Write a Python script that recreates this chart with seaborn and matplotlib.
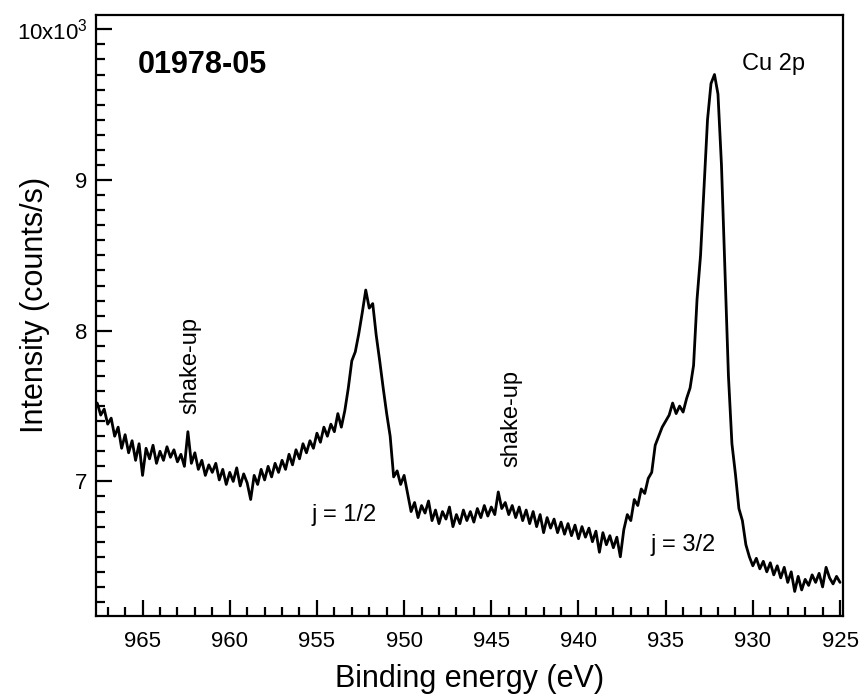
import numpy as np
import pandas as pd
import matplotlib
matplotlib.use("Agg")
import matplotlib.pyplot as plt
import seaborn as sns
from matplotlib.ticker import MultipleLocator, FixedLocator, FixedFormatter

# ---------------------------
# data (Cu 2p, 0.2 eV steps, intensity in 10^3 counts/s)
# ---------------------------
energy_start = 967.6
energy_step = 0.2

intensity = [
    # 967.6 -> 963.0
    7.52, 7.44, 7.48, 7.38, 7.42, 7.30, 7.36, 7.22, 7.31, 7.19, 7.27, 7.14,
    7.25, 7.04, 7.22, 7.15, 7.24, 7.12, 7.20, 7.14, 7.23, 7.16, 7.21, 7.13,
    # 962.8 -> 958.0
    7.18, 7.10, 7.33, 7.12, 7.19, 7.08, 7.14, 7.04, 7.11, 7.06, 7.12, 7.01,
    7.08, 6.98, 7.06, 7.00, 7.09, 6.97, 7.05, 6.99, 6.88, 7.04, 6.98, 7.08, 7.01,
    # 957.8 -> 953.4
    7.10, 7.03, 7.12, 7.06, 7.14, 7.08, 7.18, 7.11, 7.21, 7.15, 7.25, 7.19,
    7.27, 7.22, 7.32, 7.26, 7.36, 7.30, 7.38, 7.33, 7.45, 7.36, 7.47,
    # 953.2 -> 950.0  (j = 1/2)
    7.62, 7.80, 7.86, 7.98, 8.12, 8.27, 8.15, 8.18, 7.97, 7.80, 7.62, 7.45,
    7.30, 7.03, 7.07, 6.98, 7.04,
    # 949.8 -> 937.6
    6.92, 6.80, 6.86, 6.76, 6.84, 6.79, 6.87, 6.74, 6.81, 6.72, 6.80, 6.75,
    6.83, 6.70, 6.78, 6.72, 6.81, 6.74, 6.80, 6.73, 6.82, 6.76, 6.84, 6.77,
    6.83, 6.78, 6.93, 6.82, 6.86, 6.78, 6.84, 6.76, 6.83, 6.74, 6.81, 6.72,
    6.80, 6.70, 6.78, 6.66, 6.76, 6.69, 6.75, 6.66, 6.73, 6.65, 6.72, 6.64,
    6.71, 6.62, 6.70, 6.63, 6.69, 6.60, 6.67, 6.53, 6.66, 6.58, 6.64, 6.56,
    6.63, 6.50,
    # 937.4 -> 930.0  (j = 3/2)
    6.68, 6.78, 6.74, 6.88, 6.84, 6.95, 6.92, 7.02, 7.06, 7.24, 7.30, 7.36,
    7.40, 7.44, 7.52, 7.45, 7.50, 7.46, 7.55, 7.62, 7.77, 8.21, 8.50, 8.95,
    9.40, 9.64, 9.70, 9.57, 9.10, 8.40, 7.70, 7.25, 7.05, 6.82, 6.74, 6.58,
    6.50, 6.44,
    # 929.8 -> 925.0
    6.49, 6.42, 6.47, 6.40, 6.46, 6.38, 6.44, 6.36, 6.43, 6.33, 6.40, 6.27,
    6.37, 6.28, 6.35, 6.31, 6.38, 6.33, 6.39, 6.30, 6.43, 6.36, 6.32, 6.37, 6.33,
]

energy = np.round(energy_start - energy_step * np.arange(len(intensity)), 1)
df = pd.DataFrame({"Binding energy": energy, "Intensity": intensity})

sample_id = "01978-05"
line_name = "Cu 2p"
y_ticks = [7, 8, 9, 10]
y_tick_labels = ["7", "8", "9", r"10x10$^{3}$"]

# ---------------------------
# style
# ---------------------------
sns.set_style("ticks")
plt.rcParams['font.family'] = ['Liberation Sans', 'DejaVu Sans']
plt.rcParams['mathtext.fontset'] = 'custom'
plt.rcParams['mathtext.rm'] = 'Liberation Sans'
plt.rcParams['mathtext.it'] = 'Liberation Sans:italic'
plt.rcParams['text.color'] = 'black'
plt.rcParams['axes.labelcolor'] = 'black'
plt.rcParams['xtick.color'] = 'black'
plt.rcParams['ytick.color'] = 'black'

fig = plt.figure(figsize=(8.61, 6.95), dpi=100)
ax = fig.add_axes([96 / 861, 1 - 616 / 695, (843 - 96) / 861, (616 - 15) / 695])

sns.lineplot(data=df, x="Binding energy", y="Intensity", ax=ax,
             color="black", linewidth=2.0, sort=False)

ax.set_xlim(967.67, 924.83)
ax.set_ylim(6.107, 10.095)

ax.xaxis.set_major_locator(MultipleLocator(5))
ax.xaxis.set_minor_locator(MultipleLocator(1))
ax.yaxis.set_major_locator(FixedLocator(y_ticks))
ax.yaxis.set_major_formatter(FixedFormatter(y_tick_labels))
ax.yaxis.set_minor_locator(MultipleLocator(0.1))

ax.tick_params(which="both", direction="in", width=1.6, top=False, right=False)
ax.tick_params(which="major", length=11.5)
ax.tick_params(which="minor", length=6.5)
ax.tick_params(axis="x", which="major", labelsize=16, pad=11)
ax.tick_params(axis="y", which="major", labelsize=16, pad=6)

for side in ["left", "bottom", "right", "top"]:
    ax.spines[side].set_linewidth(1.6)
    ax.spines[side].set_color("black")

ax.set_xlabel("Binding energy (eV)", fontsize=22)
ax.set_ylabel("Intensity (counts/s)", fontsize=22)
ax.xaxis.set_label_coords(0.5, -0.08)
ax.yaxis.set_label_coords(-0.062, 0.517)

# annotations
ax.text(961.55, 9.76, sample_id, fontsize=22, fontweight="bold",
        ha="center", va="center")
ax.text(928.82, 9.77, line_name, fontsize=17, ha="center", va="center")
ax.text(962.26, 7.77, "shake-up", fontsize=17, rotation=90,
        ha="center", va="center")
ax.text(943.87, 7.42, "shake-up", fontsize=17, rotation=90,
        ha="center", va="center")
ax.text(953.44, 6.78, "j = 1/2", fontsize=17, ha="center", va="center")
ax.text(934.01, 6.58, "j = 3/2", fontsize=17, ha="center", va="center")

fig.savefig("out.png", dpi=100)
